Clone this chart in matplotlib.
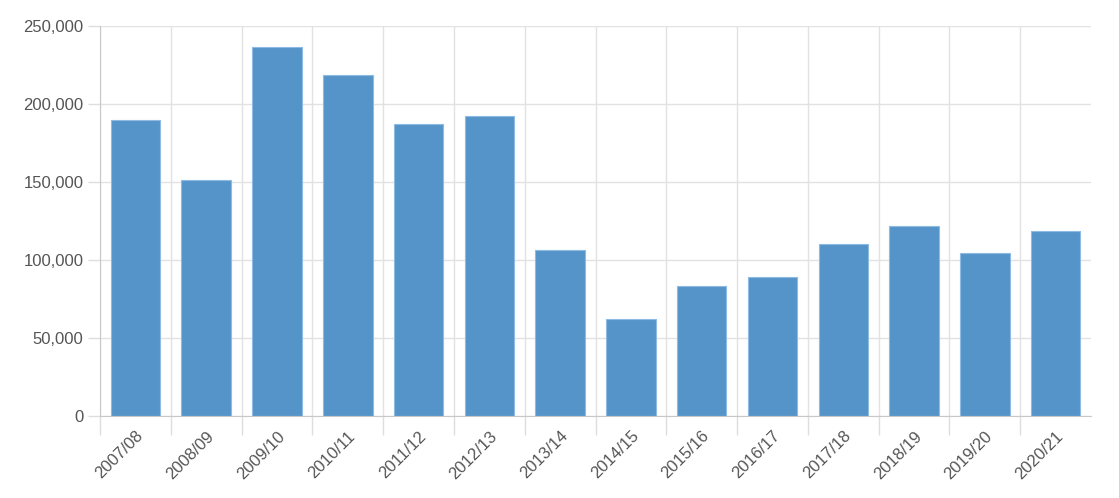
import numpy as np
import matplotlib.pyplot as plt
from matplotlib.ticker import FuncFormatter, MultipleLocator

seasons = ["2007/08", "2008/09", "2009/10", "2010/11", "2011/12", "2012/13", "2013/14",
           "2014/15", "2015/16", "2016/17", "2017/18", "2018/19", "2019/20", "2020/21"]
values = [189500, 151000, 236000, 218200, 187000, 191800, 106200,
          61800, 83300, 88900, 110100, 121400, 104300, 118200]

plt.rcParams['font.family'] = ['Liberation Sans', 'DejaVu Sans']

fig = plt.figure(figsize=(11.19, 4.98), dpi=100)
ax = fig.add_axes([0.0894, 0.165, 0.8856, 0.7835])

x = np.arange(len(seasons))
ax.bar(x, values, width=0.7, color='#5594c9', edgecolor='#8dbbe3', linewidth=0.8, zorder=3)

ax.set_xlim(-0.5, len(seasons) - 0.5)
ax.set_ylim(0, 250000)
ax.yaxis.set_major_locator(MultipleLocator(50000))
ax.yaxis.set_major_formatter(FuncFormatter(lambda v, p: f"{int(v):,}"))

# category labels centred, grid lines between categories (none at the right edge)
ax.set_xticks(x)
ax.set_xticklabels(seasons, rotation=45, ha='right', rotation_mode='anchor')
ax.set_xticks(np.arange(-0.5, len(seasons) - 1), minor=True)
ax.tick_params(axis='x', which='major', length=0, pad=9, labelsize=12, labelcolor='#555555')
ax.tick_params(axis='x', which='minor', length=14, color='#dedede', width=1)
ax.tick_params(axis='y', length=9, color='#dedede', width=1, pad=3, labelsize=12, labelcolor='#555555')

ax.grid(True, axis='y', color='#e2e2e2', linewidth=1, zorder=0)
ax.grid(True, axis='x', which='minor', color='#e2e2e2', linewidth=1, zorder=0)

for side in ['top', 'right']:
    ax.spines[side].set_visible(False)
ax.spines['left'].set_color('#c8c8c8')
ax.spines['bottom'].set_color('#c8c8c8')
ax.spines['left'].set_zorder(4)
ax.spines['bottom'].set_zorder(4)

fig.savefig('out.png', dpi=100)
